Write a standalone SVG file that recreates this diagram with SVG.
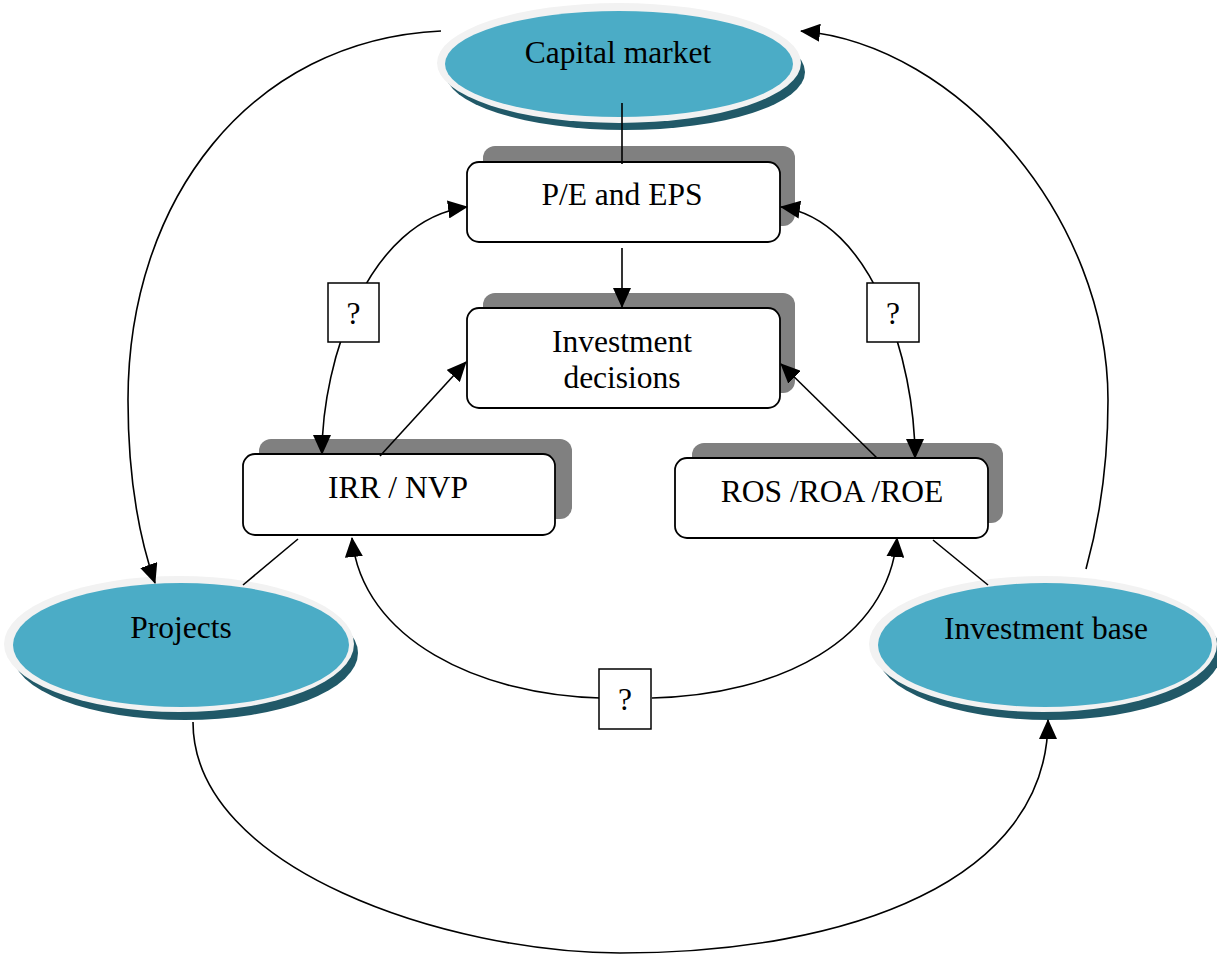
<svg xmlns="http://www.w3.org/2000/svg" width="1217" height="955" viewBox="0 0 1217 955">
<style>
text{font-family:"Liberation Serif","Times New Roman",serif;font-size:31.5px;fill:#000;text-anchor:middle}
.ring{fill:#F2F2F2}
.blue{fill:#4BACC6}
.eshadow{fill:#215968}
.bshadow{fill:#808080}
.box{fill:#fff;stroke:#000;stroke-width:1.8}
.q{fill:#fff;stroke:#000;stroke-width:1.5}
.c{fill:none;stroke:#000;stroke-width:1.6}
</style>
<defs>
<marker id="ah" viewBox="0 0 20 18" refX="19" refY="9" markerWidth="20" markerHeight="18" markerUnits="userSpaceOnUse" orient="auto-start-reverse">
<path d="M0,0 L20,9 L0,18 Z" fill="#000"/>
</marker>
</defs>

<g id="capital-market">
<ellipse class="eshadow" cx="625" cy="72" rx="180" ry="58"/>
<ellipse class="ring" cx="619" cy="63" rx="182" ry="60"/>
<ellipse class="blue" cx="619" cy="64" rx="174" ry="53"/>
<text x="618" y="63">Capital market</text>
</g>

<g id="projects">
<ellipse class="eshadow" cx="185" cy="653" rx="173" ry="67"/>
<ellipse class="ring" cx="179" cy="644" rx="175" ry="68"/>
<ellipse class="blue" cx="181" cy="645" rx="168" ry="62"/>
<text x="181" y="638">Projects</text>
</g>

<g id="investment-base">
<ellipse class="eshadow" cx="1049" cy="653" rx="172" ry="67"/>
<ellipse class="ring" cx="1043" cy="644" rx="174" ry="68"/>
<ellipse class="blue" cx="1045" cy="645" rx="167" ry="62"/>
<text x="1046" y="639">Investment base</text>
</g>

<g id="pe-eps">
<rect class="bshadow" x="483" y="146" width="312" height="80" rx="12"/>
<rect class="box" x="467" y="162" width="313" height="80" rx="12"/>
<text x="622" y="205">P/E and EPS</text>
</g>

<g id="investment-decisions">
<rect class="bshadow" x="483" y="293" width="312" height="100" rx="12"/>
<rect class="box" x="467" y="308" width="313" height="100" rx="12"/>
<text x="622" y="352">Investment</text>
<text x="622" y="388">decisions</text>
</g>

<g id="irr-nvp">
<rect class="bshadow" x="259" y="439" width="313" height="80" rx="12"/>
<rect class="box" x="243" y="454" width="312" height="81" rx="12"/>
<text x="398" y="498">IRR / NVP</text>
</g>

<g id="ros-roa-roe">
<rect class="bshadow" x="692" y="443" width="311" height="80" rx="12"/>
<rect class="box" x="675" y="458" width="313" height="80" rx="12"/>
<text x="832" y="502">ROS /ROA /ROE</text>
</g>

<g id="connectors">
<line class="c" x1="622" y1="103" x2="622" y2="164"/>
<line class="c" x1="622" y1="248" x2="622" y2="307" marker-end="url(#ah)"/>
<path class="c" d="M322,454 C322,360 368,220 467,207" marker-start="url(#ah)" marker-end="url(#ah)"/>
<path class="c" d="M915,458 C915,360 872,220 781,207" marker-start="url(#ah)" marker-end="url(#ah)"/>
<line class="c" x1="380" y1="456" x2="466" y2="362" marker-end="url(#ah)"/>
<line class="c" x1="877" y1="458" x2="781" y2="364" marker-end="url(#ah)"/>
<path class="c" d="M352,538 C362,640 480,695 600,698" marker-start="url(#ah)"/>
<path class="c" d="M652,698 C780,695 888,640 897,538" marker-end="url(#ah)"/>
<line class="c" x1="298" y1="539" x2="243" y2="585"/>
<line class="c" x1="933" y1="540" x2="988" y2="585"/>
<path class="c" d="M441,31 C250,40 128,200 128,400 C128,480 140,540 155,583" marker-end="url(#ah)"/>
<path class="c" d="M1086,569 C1105,500 1108,440 1108,400 C1108,220 960,45 801,31" marker-end="url(#ah)"/>
<path class="c" d="M193,722 C193,870 450,953 620,953 C850,953 1048,880 1048,720" marker-end="url(#ah)"/>
</g>

<g id="q-left">
<rect class="q" x="328" y="283" width="51" height="59"/>
<text x="353.5" y="324">?</text>
</g>
<g id="q-right">
<rect class="q" x="867" y="283" width="52" height="59"/>
<text x="893" y="324">?</text>
</g>
<g id="q-bottom">
<rect class="q" x="599" y="669" width="52" height="60"/>
<text x="625" y="710">?</text>
</g>
</svg>
